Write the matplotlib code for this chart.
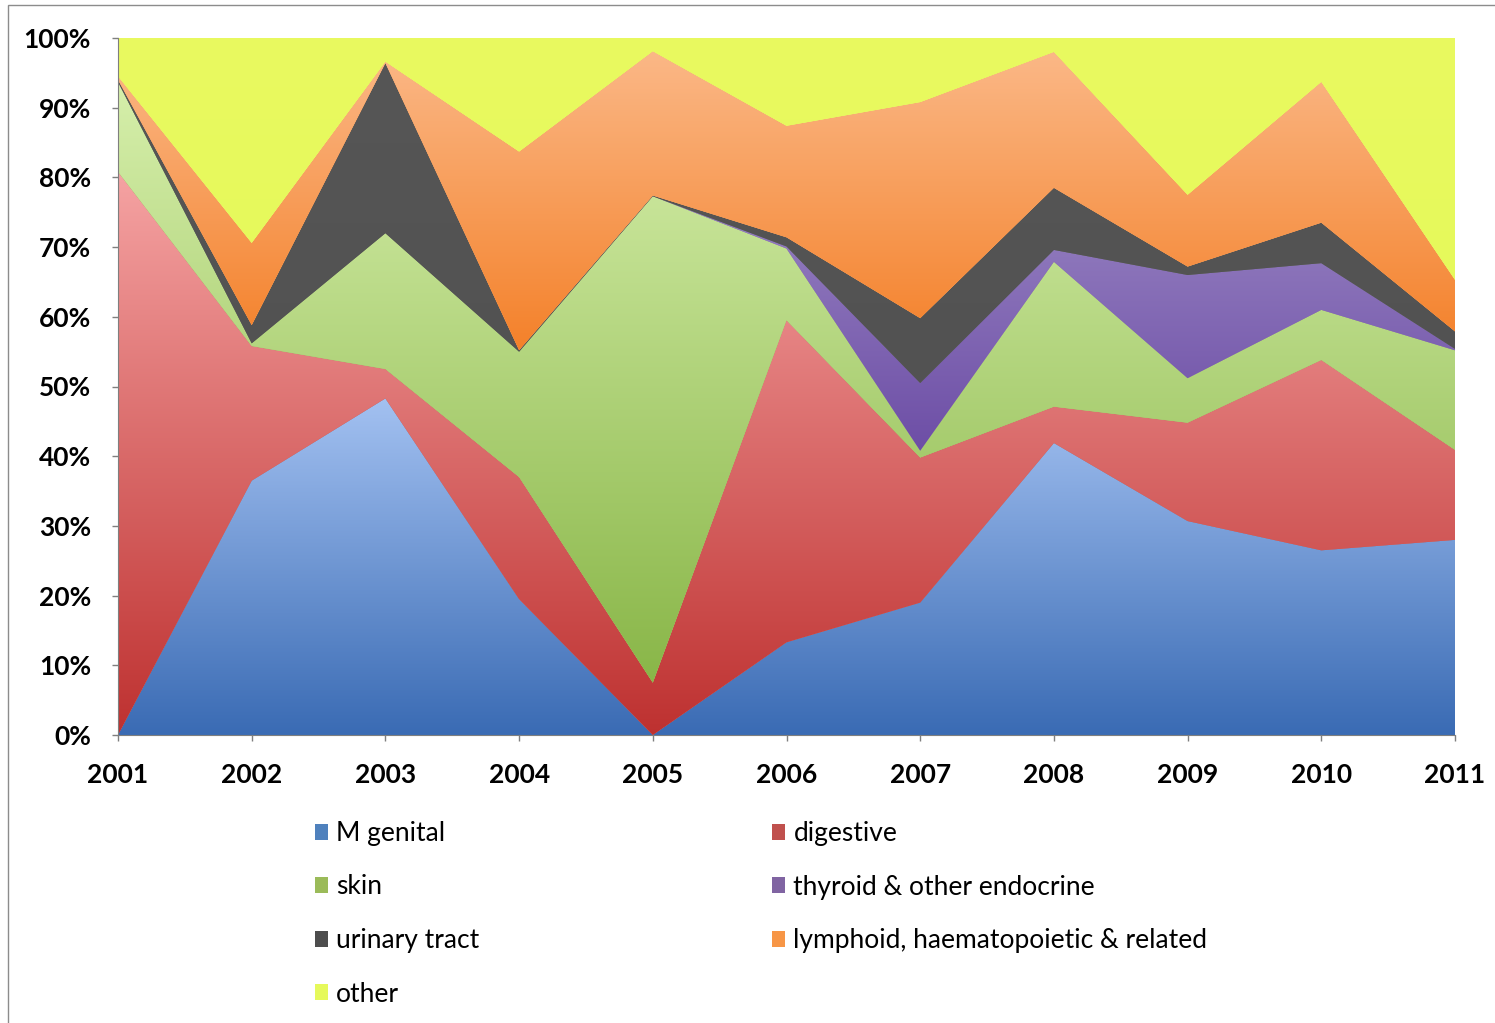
import numpy as np
import matplotlib
matplotlib.use("Agg")
import matplotlib.pyplot as plt
from matplotlib.colors import LinearSegmentedColormap
from matplotlib.patches import Patch, Rectangle

# data: share of cases per year (%)
years = [2001, 2002, 2003, 2004, 2005, 2006, 2007, 2008, 2009, 2010, 2011]
m_genital = [0.0, 36.5, 48.3, 19.5, 0.0, 13.3, 19.0, 41.9, 30.7, 26.5, 28.0]
digestive = [80.8, 19.3, 4.2, 17.5, 7.5, 46.2, 20.8, 5.2, 14.1, 27.3, 12.9]
skin = [12.9, 0.4, 19.5, 18.0, 69.8, 10.3, 1.0, 20.8, 6.4, 7.2, 14.3]
thyroid = [0.0, 0.0, 0.0, 0.0, 0.0, 0.3, 9.7, 1.7, 14.8, 6.7, 0.2]
urinary = [0.3, 2.6, 24.4, 0.2, 0.1, 1.3, 9.3, 8.9, 1.2, 5.8, 2.5]
lymphoid = [0.5, 11.8, 0.2, 28.5, 20.7, 16.0, 31.0, 19.5, 10.3, 20.2, 7.4]
other = [5.5, 29.4, 3.4, 16.3, 1.9, 12.6, 9.2, 2.0, 22.5, 6.3, 34.7]

labels = ["M genital", "digestive", "skin", "thyroid & other endocrine",
          "urinary tract", "lymphoid, haematopoietic & related", "other"]
# (top colour, bottom colour, legend colour)
colors = [("#a3c1f1", "#3a6bb4", "#4f81bd"),
          ("#f5a3a3", "#be3130", "#c0504d"),
          ("#d6efab", "#89b648", "#9bbb59"),
          ("#a898cd", "#6d4ea6", "#8064a2"),
          ("#565656", "#525252", "#4d4d4d"),
          ("#fbb887", "#f4812a", "#f79646"),
          ("#e9fa60", "#e6f95b", "#e6f95b")]

params = {"font.family": ["Lato", "DejaVu Sans"], "font.size": 19}
matplotlib.rcParams.update(params)

fig = plt.figure(figsize=(14.95, 10.23), dpi=100)
ax = fig.add_axes([118 / 1495, 1 - 735 / 1023, (1455 - 118) / 1495, (735 - 38) / 1023])

x = np.array(years, dtype=float)
series = [m_genital, digestive, skin, thyroid, urinary, lymphoid, other]
lower = np.zeros(len(x))
grad = np.linspace(0, 1, 256).reshape(-1, 1)
for i, s in enumerate(series):
    upper = lower + np.array(s)
    top_c, bot_c, mid_c = colors[i]
    poly = ax.fill_between(x, lower, upper, facecolor=mid_c, edgecolor="none",
                           linewidth=0, zorder=2 + i)
    ymin, ymax = lower.min(), upper.max()
    cmap = LinearSegmentedColormap.from_list("g%d" % i, [bot_c, top_c])
    im = ax.imshow(grad, cmap=cmap, origin="lower", aspect="auto",
                   extent=(x[0], x[-1], ymin, ymax), zorder=2 + i,
                   interpolation="bilinear")
    im.set_clip_path(poly.get_paths()[0], ax.transData)
    lower = upper

ax.set_xlim(years[0], years[-1])
ax.set_ylim(0, 100)
ax.set_xticks(years)
ax.set_xticklabels([str(y) for y in years], fontweight="bold", fontsize=19)
ax.set_yticks(range(0, 101, 10))
ax.set_yticklabels(["%d%%" % v for v in range(0, 101, 10)], fontweight="bold", fontsize=19)
ax.tick_params(axis="both", colors="#7f7f7f", labelcolor="black", length=4.5, width=1)
ax.tick_params(axis="x", pad=15.5)
ax.tick_params(axis="y", pad=15)
for side in ["top", "right"]:
    ax.spines[side].set_visible(False)
for side in ["left", "bottom"]:
    ax.spines[side].set_color("#7f7f7f")
    ax.spines[side].set_zorder(20)

# legend, column-wise order so rows read left to right
order = [0, 2, 4, 6, 1, 3, 5]
handles = [Patch(facecolor=colors[k][2], edgecolor="none") for k in order]
fig.legend(handles, [labels[k] for k in order], ncol=2, frameon=False,
           loc="upper left", bbox_to_anchor=(315 / 1495, 1 - 821 / 1023),
           borderaxespad=0, borderpad=0,
           fontsize=19, handlelength=0.5, handleheight=0.55, handletextpad=0.3,
           labelspacing=1.08, columnspacing=11.1)

# outer chart frame
fig.add_artist(Rectangle((8 / 1495, -0.01), 1.0, 1 - 5 / 1023 + 0.01,
                         transform=fig.transFigure, fill=False,
                         edgecolor="#8c8c8c", linewidth=1))

fig.savefig("out.png", dpi=100)
